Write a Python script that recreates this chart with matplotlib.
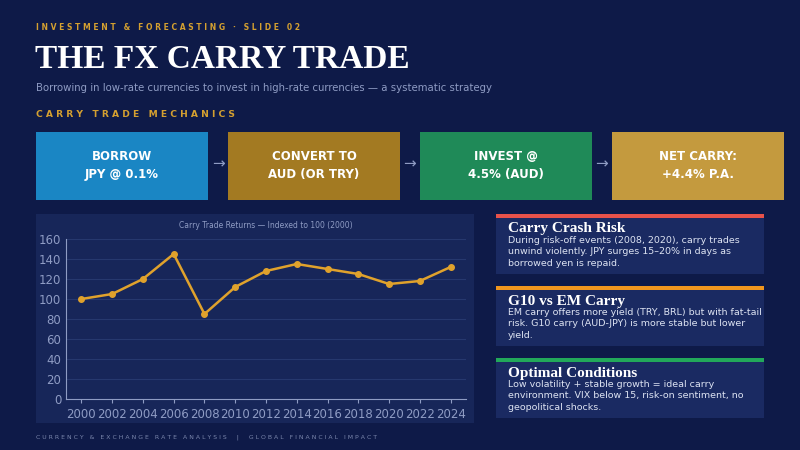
import matplotlib.pyplot as plt
from matplotlib.patches import Rectangle

# data
years = ['2000', '2002', '2004', '2006', '2008', '2010', '2012',
         '2014', '2016', '2018', '2020', '2022', '2024']
index_vals = [100, 105, 120, 145, 85, 112, 128, 135, 130, 125, 115, 118, 132]

steps = ['BORROW\nJPY @ 0.1%', 'CONVERT TO\nAUD (OR TRY)', 'INVEST @\n4.5% (AUD)', 'NET CARRY:\n+4.4% P.A.']
step_colors = ['#1a86c4', '#a37a22', '#1f8a58', '#c49a3e']

card_titles = ['Carry Crash Risk', 'G10 vs EM Carry', 'Optimal Conditions']
card_texts = [
    'During risk-off events (2008, 2020), carry trades\nunwind violently. JPY surges 15\u201320% in days as\nborrowed yen is repaid.',
    'EM carry offers more yield (TRY, BRL) but with fat-tail\nrisk. G10 carry (AUD-JPY) is more stable but lower\nyield.',
    'Low volatility + stable growth = ideal carry\nenvironment. VIX below 15, risk-on sentiment, no\ngeopolitical shocks.',
]
card_colors = ['#e8524a', '#f0961e', '#22a85a']

BG = '#0e1a48'
GOLD = '#d4a030'
W, H = 800, 450


def fx(x):
    return x / W


def fy(y):
    return 1 - y / H


def rect(fig, x0, y0, x1, y1, color, z=1):
    fig.patches.append(Rectangle((fx(x0), fy(y1)), (x1 - x0) / W, (y1 - y0) / H,
                                 transform=fig.transFigure, facecolor=color,
                                 edgecolor='none', zorder=z))


fig = plt.figure(figsize=(8, 4.5), dpi=100, facecolor=BG)

fig.text(fx(36), fy(27), 'I N V E S T M E N T   &   F O R E C A S T I N G   ·   S L I D E   0 2',
         color=GOLD, fontsize=5.5, fontweight='bold', va='center')
fig.text(fx(35), fy(59), 'THE FX CARRY TRADE', color='white', fontsize=24,
         fontweight='bold', family='Liberation Serif', va='center')
fig.text(fx(36), fy(88), 'Borrowing in low-rate currencies to invest in high-rate currencies \u2014 a systematic strategy',
         color='#8f9cc4', fontsize=7.3, va='center')
fig.text(fx(36), fy(114), 'C A R R Y   T R A D E   M E C H A N I C S', color=GOLD,
         fontsize=6.6, fontweight='bold', va='center')

# process boxes
for i, (label, c) in enumerate(zip(steps, step_colors)):
    x0 = 36 + i * 192
    rect(fig, x0, 132, x0 + 172, 200, c)
    fig.text(fx(x0 + 86), fy(166), label, color='white', fontsize=8.5, fontweight='bold',
             ha='center', va='center', linespacing=1.5)
    if i < 3:
        fig.text(fx(x0 + 182), fy(164), '\u2192', color='#8f9cc4', fontsize=11,
                 ha='center', va='center')

# chart panel
rect(fig, 36, 214, 474, 423, '#172659', z=-1)
ax = fig.add_axes([fx(66), fy(399), (466 - 66) / W, (399 - 239) / H])
ax.set_facecolor('#172659')
x = range(len(years))
ax.plot(x, index_vals, color='#e0a22c', lw=1.8, marker='o', ms=4)
ax.set_xlim(-0.5, len(years) - 0.5)
ax.set_ylim(0, 160)
ax.set_yticks(range(0, 161, 20))
ax.set_xticks(list(x))
ax.set_xticklabels(years)
ax.tick_params(colors='#8f9cc4', labelsize=8.5, length=3)
ax.tick_params(axis='y', length=0)
ax.grid(axis='y', color='#26386e', lw=0.8)
ax.set_axisbelow(True)
for s in ['top', 'right']:
    ax.spines[s].set_visible(False)
ax.spines['left'].set_color('#8f9cc4')
ax.spines['bottom'].set_color('#8f9cc4')
ax.set_title('Carry Trade Returns \u2014 Indexed to 100 (2000)', color='#8f9cc4',
             fontsize=5.5, pad=8)

# cards
for i, (t, body, c) in enumerate(zip(card_titles, card_texts, card_colors)):
    y0 = 214 + i * 72
    rect(fig, 496, y0, 764, y0 + 4, c)
    rect(fig, 496, y0 + 4, 764, y0 + 60, '#1a2a62')
    fig.text(fx(508), fy(y0 + 15), t, color='white', fontsize=11, fontweight='bold',
             family='Liberation Serif', va='center')
    fig.text(fx(508), fy(y0 + 22), body, color='#dde3f2', fontsize=6.8, va='top',
             linespacing=1.35)

fig.text(fx(36), fy(437), 'C U R R E N C Y   &   E X C H A N G E   R A T E   A N A L Y S I S     |     G L O B A L   F I N A N C I A L   I M P A C T',
         color='#7a86ac', fontsize=4.4, va='center')

fig.savefig('out.png', dpi=100, facecolor=BG)
